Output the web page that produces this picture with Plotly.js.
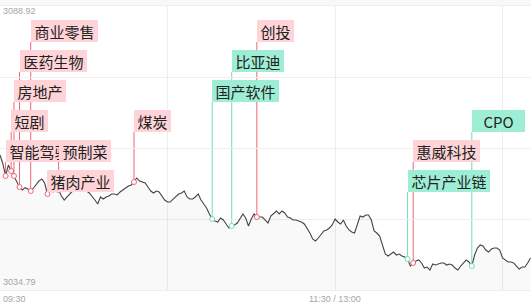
<!DOCTYPE html>
<html>
<head>
<meta charset="utf-8">
<script src="https://cdn.plot.ly/plotly-3.0.1.min.js"></script>
<style>
  html, body { margin: 0; padding: 0; background: #fff; overflow: hidden; }
  #chart { width: 531px; height: 304px; }
</style>
</head>
<body>
<div id="chart"></div>
<script>
// Intraday index, one value per trading minute from 09:30
const yMin = 3034.79;
const yMax = 3088.92;
const timeLabels = ['09:30', '11:30 / 13:00'];
const timeLabelMinutes = [0, 120];

const prices = [
  3060.52, 3058.90, 3056.52, 3058.61, 3057.47, 3056.52, 3055.37, 3054.42, 3053.85, 3054.30,
  3054.04, 3053.66, 3054.23, 3054.99, 3055.60, 3055.95, 3055.18, 3053.09, 3053.85, 3053.47,
  3053.66, 3053.85, 3052.71, 3051.94, 3052.52, 3053.09, 3053.66, 3053.85, 3054.04, 3054.23,
  3053.85, 3053.66, 3053.28, 3052.71, 3051.94, 3051.18, 3052.52, 3052.13, 3052.52, 3052.71,
  3053.09, 3053.09, 3052.90, 3053.47, 3053.85, 3054.23, 3054.61, 3054.80, 3055.37, 3056.14,
  3055.56, 3055.37, 3055.18, 3054.42, 3053.66, 3053.28, 3053.66, 3053.47, 3052.71, 3051.94,
  3051.56, 3051.56, 3052.13, 3052.71, 3053.09, 3053.28, 3053.66, 3052.52, 3052.13, 3052.13,
  3052.52, 3053.09, 3051.94, 3051.18, 3050.42, 3049.28, 3048.32, 3047.94, 3047.75, 3048.51,
  3048.13, 3047.37, 3046.61, 3046.99, 3047.18, 3047.56, 3048.32, 3049.28, 3048.51, 3046.99,
  3048.32, 3049.28, 3048.70, 3048.70, 3048.70, 3048.13, 3047.56, 3048.89, 3049.47, 3049.85,
  3049.28, 3049.85, 3049.47, 3048.70, 3048.51, 3048.13, 3048.13, 3047.94, 3047.75, 3047.37,
  3046.61, 3045.65, 3044.51, 3044.13, 3044.70, 3045.46, 3046.04, 3046.23, 3046.61, 3047.18,
  3048.32, 3047.75, 3047.37, 3048.13, 3046.99, 3046.23, 3045.84, 3045.65, 3047.37, 3048.89,
  3048.70, 3049.08, 3049.08, 3048.13, 3046.04, 3045.65, 3045.08, 3043.37, 3041.65, 3041.27,
  3041.65, 3042.03, 3041.46, 3041.65, 3041.27, 3041.08, 3040.70, 3039.36, 3039.94, 3040.32,
  3040.51, 3039.94, 3038.98, 3039.17, 3038.60, 3039.75, 3039.55, 3039.75, 3039.94, 3039.94,
  3039.55, 3039.75, 3039.55, 3038.98, 3038.60, 3039.36, 3039.94, 3040.51, 3040.13, 3039.36,
  3041.46, 3042.79, 3043.37, 3043.18, 3042.41, 3042.03, 3042.60, 3042.79, 3042.79, 3042.41,
  3040.89, 3040.51, 3040.13, 3040.13, 3039.94, 3039.36, 3038.79, 3039.17, 3039.17, 3039.94,
  3040.89
];

// Sector news tags pinned to the minute they fired
const eventNames   = ['智能驾驶', '短剧', '房地产', '医药生物', '商业零售', '猪肉产业', '预制菜', '煤炭',
                      '国产软件', '比亚迪', '创投', '芯片产业链', '惠威科技', 'CPO'];
const eventMinutes = [2, 4, 5, 7, 11, 17, 21, 48, 76, 83, 92, 146, 148, 169];
const eventKinds   = ['up', 'up', 'up', 'up', 'up', 'up', 'up', 'up',
                      'down', 'down', 'up', 'down', 'up', 'down'];

// Stacking row of each tag (0 = highest)
const tagRows = [4, 3, 2, 1, 0, 5, 4, 3, 2, 1, 0, 5, 4, 3];

const palette = {
  up:   { box: '#ffd4d9', line: '#ee6677' },
  down: { box: '#9eeed6', line: '#6fdcb9' }
};

const W = 531, H = 304;
const M = { l: 0, r: 0, t: 6, b: 14 };
const plotH = H - M.t - M.b;
const xMax = 190.2;

// pixel row (from top of page) -> value on the price axis
const pxToVal = p => yMax - (p - M.t) / plotH * (yMax - yMin);

const rowTop = r => 20 + 30 * r;
const tagH = 22;
const tagWidth = s => /^[\x00-\x7F]+$/.test(s) ? 53 : s.length * 15 + 7;

const xs = prices.map((_, i) => i);

const priceTrace = {
  x: xs, y: prices, type: 'scatter', mode: 'lines',
  line: { color: '#444444', width: 1.1 },
  fill: 'tozeroy', fillcolor: 'rgba(0,0,0,0.022)',
  hoverinfo: 'skip'
};

const evY = eventMinutes.map(m => prices[m]);
const markerTrace = {
  x: eventMinutes, y: evY, type: 'scatter', mode: 'markers',
  marker: {
    symbol: 'circle', size: 5, color: '#ffffff',
    line: { width: 1, color: eventKinds.map(k => palette[k].line) }
  },
  hoverinfo: 'skip'
};

const shapes = [{
  type: 'rect', xref: 'paper', yref: 'paper', x0: 0, x1: 1, y0: 1, y1: 1 + M.t / plotH,
  fillcolor: '#f8f8f8', line: { width: 0 }, layer: 'below'
}];

const annotations = [];

eventNames.forEach((name, i) => {
  const m = eventMinutes[i];
  const c = palette[eventKinds[i]];
  const top = rowTop(tagRows[i]);
  shapes.push({
    type: 'line', xref: 'x', yref: 'y',
    x0: m, x1: m, y0: evY[i], y1: pxToVal(top + tagH),
    line: { color: c.line, width: 1 }, layer: 'below'
  });
  annotations.push({
    x: m, xref: 'x', xanchor: 'left',
    y: pxToVal(top), yref: 'y', yanchor: 'top',
    text: name, showarrow: false,
    bgcolor: c.box, borderpad: 0, borderwidth: 0,
    width: tagWidth(name), height: tagH, align: 'center', valign: 'middle',
    font: { family: 'Noto Sans CJK SC, sans-serif', size: 15, color: '#222222' }
  });
});

const axisFont = { family: 'Liberation Sans, Arial, sans-serif', size: 9, color: '#a6a6a6' };

annotations.unshift(
  { xref: 'paper', x: 0, xanchor: 'left', xshift: 2, yref: 'paper', y: 1, yanchor: 'top', yshift: 1,
    text: yMax.toFixed(2), showarrow: false, font: axisFont, borderpad: 0 },
  { xref: 'paper', x: 0, xanchor: 'left', xshift: 2, yref: 'paper', y: 0, yanchor: 'bottom', yshift: 2,
    text: yMin.toFixed(2), showarrow: false, font: axisFont, borderpad: 0 },
  { xref: 'x', x: timeLabelMinutes[0], xanchor: 'left', xshift: 2, yref: 'paper', y: 0, yanchor: 'top', yshift: -3,
    text: timeLabels[0], showarrow: false, font: axisFont, borderpad: 0 },
  { xref: 'x', x: timeLabelMinutes[1], xanchor: 'center', yref: 'paper', y: 0, yanchor: 'top', yshift: -3,
    text: timeLabels[1], showarrow: false, font: axisFont, borderpad: 0 }
);

const yGrid = [0, 1, 2, 3, 4].map(k => yMin + k * (yMax - yMin) / 4);

const layout = {
  width: W, height: H,
  margin: M,
  paper_bgcolor: '#ffffff', plot_bgcolor: '#ffffff',
  showlegend: false,
  xaxis: {
    range: [0, xMax], tickmode: 'array', tickvals: [60, 120, 180],
    showticklabels: false, ticks: '', showgrid: true, gridcolor: '#eeeeee', gridwidth: 1,
    zeroline: false, showline: true, mirror: true, linecolor: '#eeeeee', linewidth: 1, fixedrange: true
  },
  yaxis: {
    range: [yMin, yMax], tickmode: 'array', tickvals: yGrid,
    showticklabels: false, ticks: '', showgrid: true, gridcolor: '#eeeeee', gridwidth: 1,
    zeroline: false, showline: false, fixedrange: true
  },
  shapes: shapes,
  annotations: annotations
};

Plotly.newPlot('chart', [priceTrace, markerTrace], layout, { displayModeBar: false, staticPlot: true });
</script>
</body>
</html>
